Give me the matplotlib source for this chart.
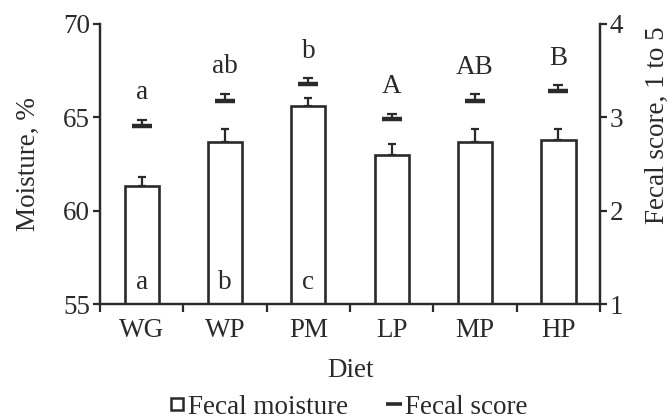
import matplotlib
matplotlib.use("Agg")
import matplotlib.pyplot as plt
from matplotlib.lines import Line2D
import numpy as np

diets = ["WG", "WP", "PM", "LP", "MP", "HP"]
moisture = [61.3, 63.7, 65.6, 63.0, 63.7, 63.8]
moisture_se = [0.5, 0.65, 0.45, 0.55, 0.65, 0.6]
score = [2.91, 3.18, 3.36, 2.98, 3.17, 3.28]
score_se = [0.065, 0.075, 0.06, 0.055, 0.075, 0.065]
score_letters = ["a", "ab", "b", "A", "AB", "B"]
moisture_letters = ["a", "b", "c", "", "", ""]

plt.rcParams['font.family'] = ['Liberation Serif', 'DejaVu Serif']
C = "#2a2a2a"
FS = 19.5

fig = plt.figure(figsize=(6.69, 4.2), dpi=100)
ax = fig.add_axes([0.1495, 0.276, 0.7475, 0.667])
ax2 = ax.twinx()

x = np.arange(len(diets)) + 0.5
ax.bar(x, moisture, width=0.41, bottom=0, color="white", edgecolor=C, linewidth=1.9, zorder=2)
ax.errorbar(x, moisture, yerr=[np.zeros(len(x)), moisture_se], fmt="none", ecolor=C,
            elinewidth=1.6, capsize=2.8, capthick=1.6, zorder=1)
ax.set_ylim(55, 70)
ax.set_xlim(0, 6)
ax.set_yticks([55, 60, 65, 70])

ax2.errorbar(x, score, yerr=[np.zeros(len(x)), score_se], fmt="none", ecolor=C,
             elinewidth=1.6, capsize=3.3, capthick=1.6, zorder=1)
ax2.plot(x, score, linestyle="none", marker="_", markersize=14.5, markeredgewidth=3.2, color=C, zorder=3)
ax2.set_ylim(1, 4)
ax2.set_yticks([1, 2, 3, 4])

for xi, s, e, lab in zip(x, score, score_se, score_letters):
    ax2.annotate(lab, (xi, s + e), xytext=(0, 19.5), textcoords="offset points",
                 ha="center", va="center", fontsize=FS, color=C)
for xi, lab in zip(x, moisture_letters):
    if lab:
        ax.annotate(lab, (xi, 55), xytext=(0, 15.5), textcoords="offset points",
                    ha="center", va="center", fontsize=FS, color=C)

ax.set_xticks(np.arange(0, 7))
ax.set_xticklabels([])
ax.set_xticks(x, minor=True)
ax.set_xticklabels(diets, minor=True, fontsize=FS, color=C)
ax.tick_params(axis="x", which="minor", length=0, pad=10)
ax.tick_params(axis="x", which="major", length=6, width=1.6, color=C, direction="out")
ax.tick_params(axis="y", length=5, width=1.6, color=C, labelsize=FS, labelcolor=C, pad=2)
ax2.tick_params(axis="y", length=5, width=1.6, color=C, labelsize=FS, labelcolor=C, pad=2)

for a in (ax, ax2):
    for side in ("top",):
        a.spines[side].set_visible(False)
    for side in ("left", "right", "bottom"):
        a.spines[side].set_color(C)
        a.spines[side].set_linewidth(1.6)

ax.set_ylabel("Moisture, %", fontsize=FS, color=C)
ax.yaxis.set_label_coords(-0.118, 0.5)
ax2.set_ylabel("Fecal score, 1 to 5", fontsize=FS, color=C)
ax2.yaxis.set_label_coords(1.09, 0.64)
ax.set_xlabel("Diet", fontsize=FS, color=C, labelpad=11)

handles = [
    Line2D([], [], linestyle="none", marker="s", markersize=9, markerfacecolor="white",
           markeredgecolor=C, markeredgewidth=1.8),
    Line2D([], [], linestyle="none", marker="_", markersize=12, markeredgewidth=2.6, color=C),
]
fig.legend(handles, ["Fecal moisture", "Fecal score"], loc="center", bbox_to_anchor=(0.52, 0.03),
           ncol=2, frameon=False, fontsize=FS, handlelength=0.6, handletextpad=0.1,
           columnspacing=1.4, labelcolor=C)

fig.savefig("out.png", dpi=100)
